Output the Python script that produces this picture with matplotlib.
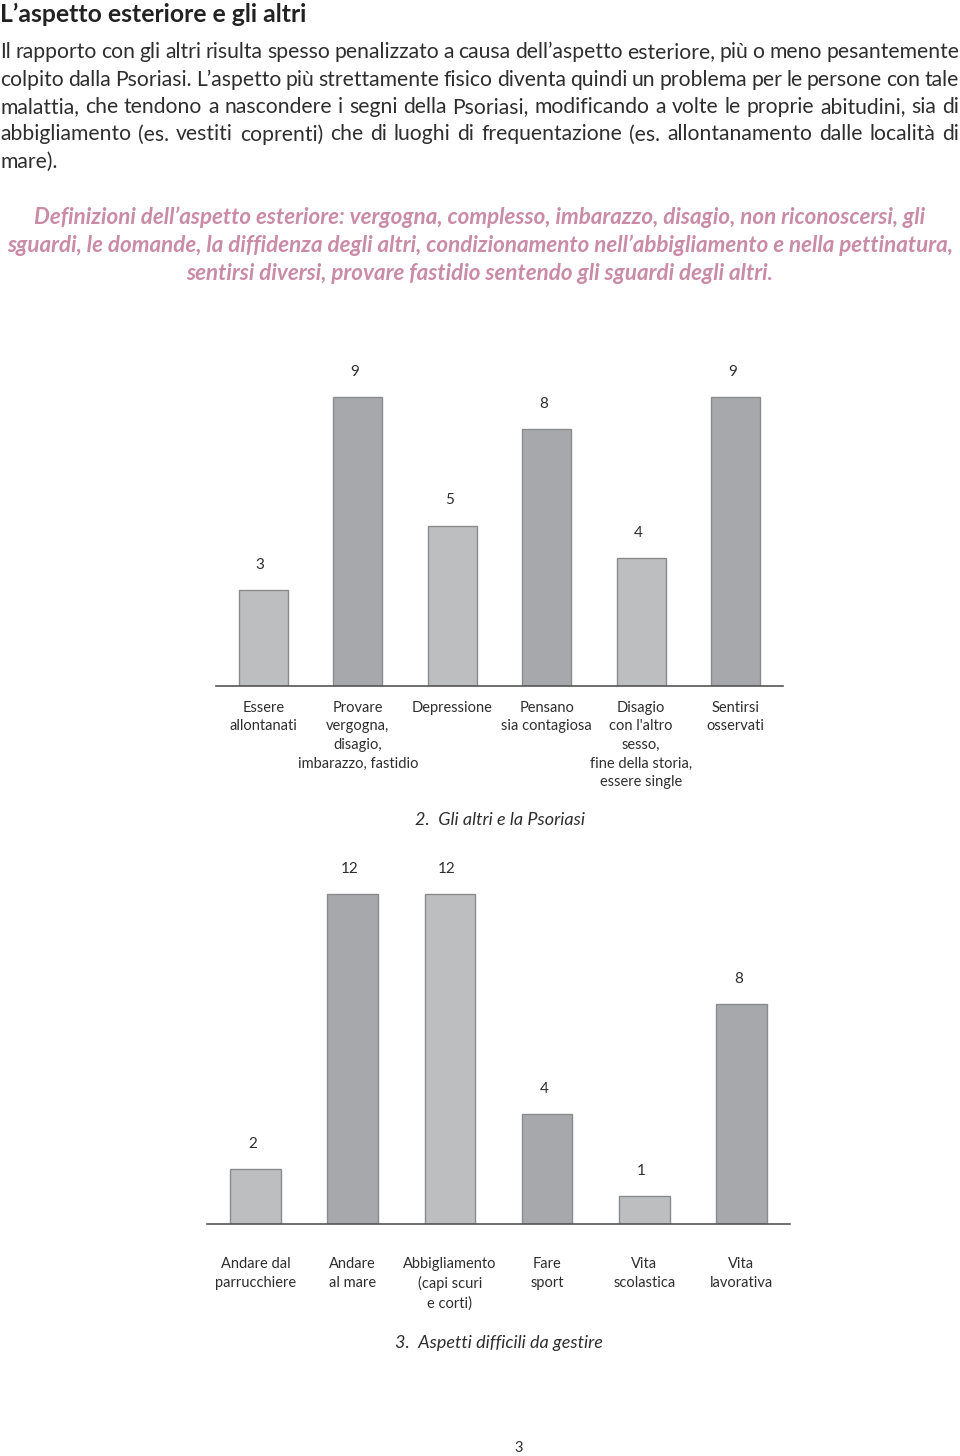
import matplotlib
matplotlib.use('Agg')
import matplotlib.pyplot as plt

plt.rcParams['font.family'] = ['Lato', 'DejaVu Sans']

# text content
title = "L\u2019aspetto esteriore e gli altri"
body_lines = [
    "Il rapporto con gli altri risulta spesso penalizzato a causa dell\u2019aspetto esteriore, più o meno pesantemente",
    "colpito dalla Psoriasi. L\u2019aspetto più strettamente fisico diventa quindi un problema per le persone con tale",
    "malattia, che tendono a nascondere i segni della Psoriasi, modificando a volte le proprie abitudini, sia di",
    "abbigliamento (es. vestiti coprenti) che di luoghi di frequentazione (es. allontanamento dalle località di",
    "mare).",
]
pink_lines = [
    "Definizioni dell\u2019aspetto esteriore: vergogna, complesso, imbarazzo, disagio, non riconoscersi, gli",
    "sguardi, le domande, la diffidenza degli altri, condizionamento nell\u2019abbigliamento e nella pettinatura,",
    "sentirsi diversi, provare fastidio sentendo gli sguardi degli altri.",
]

# chart 2 data
cat2 = ["Essere\nallontanati", "Provare\nvergogna,\ndisagio,\nimbarazzo, fastidio",
        "Depressione", "Pensano\nsia contagiosa",
        "Disagio\ncon l'altro\nsesso,\nfine della storia,\nessere single",
        "Sentirsi\nosservati"]
val2 = [3, 9, 5, 8, 4, 9]
cap2 = "2.  Gli altri e la Psoriasi"

# chart 3 data
cat3 = ["Andare dal\nparrucchiere", "Andare\nal mare", "Abbigliamento\n(capi scuri\ne corti)",
        "Fare\nsport", "Vita\nscolastica", "Vita\nlavorativa"]
val3 = [2, 12, 12, 4, 1, 8]
cap3 = "3.  Aspetti difficili da gestire"

light = '#bdbec0'
dark = '#a7a8ab'
edge = '#8a8b8d'
txt = '#2e2e2e'
pink = '#c98ba6'

W, H = 960, 1456
fig = plt.figure(figsize=(W / 100, H / 100), dpi=100)
r = fig.canvas.get_renderer()


def fy(py):
    return 1 - py / H


fig.text(0, fy(14), title, fontsize=17.8, fontweight='bold', color='#222222', va='center')

# pick body size so every justified line keeps word gaps of at least ~4 px
trial = 14.0
scales = []
for line in body_lines[:-1]:
    words = line.split(' ')
    tot = 0
    for w in words:
        t = fig.text(0, 0, w, fontsize=trial)
        tot += t.get_window_extent(r).width
        t.remove()
    scales.append((W - 1 - (len(words) - 1) * 4.2) / tot)
body_size = trial * min(scales)


def justify(line, py, last=False, size=14.2):
    words = line.split(' ')
    texts = [fig.text(0, fy(py), w, fontsize=size, color=txt, va='center') for w in words]
    widths = [t.get_window_extent(r).width for t in texts]
    if last or len(words) == 1:
        gap = size * 0.3
    else:
        gap = (W - 1 - sum(widths)) / (len(words) - 1)
    x = 0
    for t, w in zip(texts, widths):
        t.set_x(x / W)
        x += w + gap


for i, line in enumerate(body_lines):
    justify(line, 52 + i * 27.5, last=(i == len(body_lines) - 1), size=body_size)

for i, line in enumerate(pink_lines):
    fig.text(0.5, fy(217 + i * 28), line, fontsize=16.1, style='italic', color=pink,
             ha='center', va='center', fontweight='bold')


def bars(ax, cats, vals, ymax, pad):
    cols = [light if i % 2 == 0 else dark for i in range(len(vals))]
    x = list(range(len(vals)))
    ax.bar(x, vals, width=0.52, color=cols, edgecolor=edge, linewidth=1)
    for xi, v in zip(x, vals):
        ax.annotate(str(v), (xi, v), xytext=(-3, 25), textcoords='offset pixels',
                    ha='center', va='center', fontsize=11, color=txt)
    ax.set_xlim(-0.5, 5.5)
    ax.set_ylim(0, ymax)
    ax.set_xticks(x)
    ax.set_xticklabels(cats, fontsize=10.5, color=txt, linespacing=1.42)
    ax.tick_params(axis='x', length=0, pad=pad)
    ax.set_yticks([])
    for s in ['top', 'right', 'left']:
        ax.spines[s].set_visible(False)
    ax.spines['bottom'].set_color('#555555')
    ax.spines['bottom'].set_linewidth(1.2)
    ax.patch.set_alpha(0)


ax1 = fig.add_axes([216 / W, fy(686), 567 / W, 321 / H])
bars(ax1, cat2, val2, 10, 10.5)
fig.text(500 / W, fy(820), cap2, fontsize=13, style='italic', color=txt, ha='center', va='center')

ax2 = fig.add_axes([207 / W, fy(1224), 583 / W, 358 / H])
bars(ax2, cat3, val3, 13, 24)
fig.text(499 / W, fy(1343), cap3, fontsize=13, style='italic', color=txt, ha='center', va='center')

fig.text(519 / W, fy(1448), "3", fontsize=10.5, color=txt, ha='center', va='center')

fig.savefig('out.png', dpi=100)
